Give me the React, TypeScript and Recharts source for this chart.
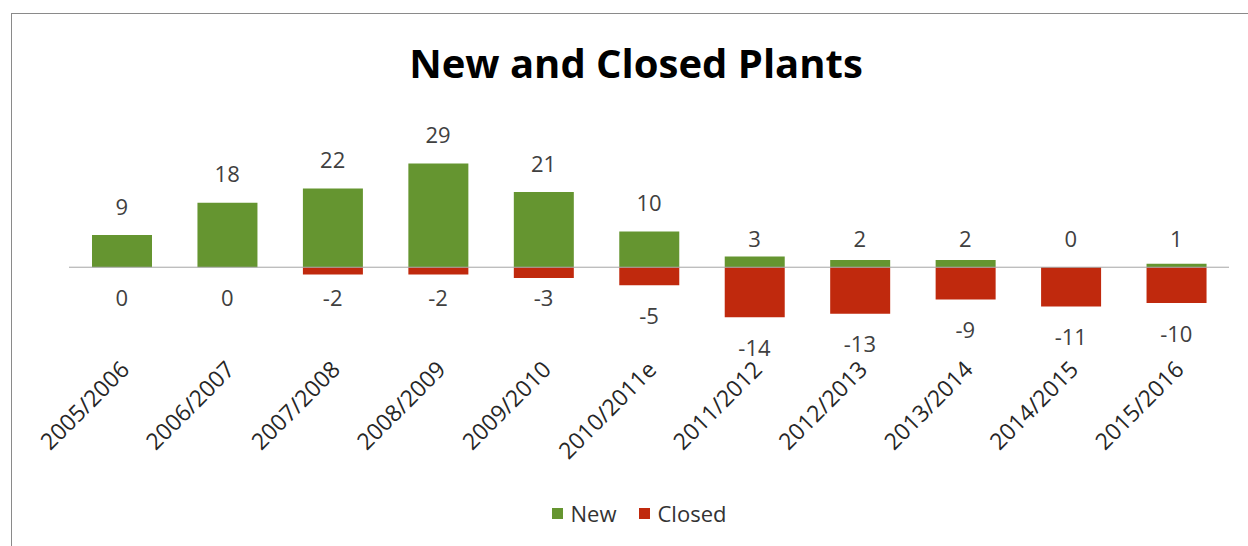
import { ComposedChart, Bar, Line, XAxis, YAxis, ReferenceLine, Legend, LabelList } from 'recharts';

const periods = [
  '2005/2006', '2006/2007', '2007/2008', '2008/2009', '2009/2010', '2010/2011e',
  '2011/2012', '2012/2013', '2013/2014', '2014/2015', '2015/2016',
];
const newPlants = [9, 18, 22, 29, 21, 10, 3, 2, 2, 0, 1];
const closedPlants = [0, 0, -2, -2, -3, -5, -14, -13, -9, -11, -10];

const GREEN = '#659530';
const RED = '#c0290d';
const FONT = '"Open Sans", sans-serif';

const data = periods.map((period, i) => ({
  period,
  New: newPlants[i],
  Closed: closedPlants[i],
}));

// small values get their label parked next to the zero line, like Excel does
const newLabelPos = (d: any) => (d.New >= 5 ? d.New : 0);
const closedLabelPos = (d: any) => (d.Closed <= -4 ? d.Closed : 0);

const ValueLabel = (props: any) => {
  const { x, y, value, shift } = props;
  return (
    <text x={x} y={y + shift} dy="0.35em" textAnchor="middle" fontSize={22} fill="#404040" fontFamily={FONT}>
      {value}
    </text>
  );
};

const PeriodTick = (props: any) => {
  const { x, y, payload } = props;
  return (
    <g transform={`translate(${x + 9},${y + 17})`}>
      <text x={0} y={0} textAnchor="end" transform="rotate(-45)" fontSize={23} fill="#262626" fontFamily={FONT}>
        {payload.value}
      </text>
    </g>
  );
};

const LegendContent = () => (
  <div style={{ display: 'flex', justifyContent: 'center', gap: 22, fontFamily: FONT, fontSize: 22, color: '#333', marginLeft: -20 }}>
    {[
      { name: 'New', color: GREEN },
      { name: 'Closed', color: RED },
    ].map((item) => (
      <span key={item.name} style={{ display: 'flex', alignItems: 'center' }}>
        <span style={{ width: 11, height: 11, background: item.color, marginRight: 8, display: 'inline-block' }} />
        {item.name}
      </span>
    ))}
  </div>
);

export default function App() {
  return (
    <div style={{ position: 'absolute', left: 0, top: 0, width: 1248, height: 546, background: '#fff', overflow: 'hidden' }}>
      <div style={{ position: 'absolute', left: 11, top: 13, width: 1300, height: 600, border: '1px solid #8a8a8a' }} />
      <div
        style={{
          position: 'absolute', left: 12, top: 35, width: 1248, textAlign: 'center',
          fontFamily: FONT, fontWeight: 700, fontSize: 40, color: '#000',
        }}
      >
        New and Closed Plants
      </div>
      <div style={{ position: 'absolute', left: 0, top: 0 }}>
        <ComposedChart
          width={1248}
          height={546}
          data={data}
          stackOffset="sign"
          barSize={60}
          margin={{ top: 124, right: 19, left: 69, bottom: 18 }}
        >
          <XAxis
            dataKey="period"
            axisLine={false}
            tickLine={false}
            interval={0}
            height={152}
            tick={<PeriodTick />}
          />
          <YAxis hide domain={[-22, 40]} />
          <ReferenceLine y={0} stroke="#a6a6a6" />
          <Legend verticalAlign="bottom" height={30} content={<LegendContent />} />
          <Bar dataKey="New" stackId="a" fill={GREEN} isAnimationActive={false} />
          <Bar dataKey="Closed" stackId="a" fill={RED} isAnimationActive={false} />
          <Line dataKey={newLabelPos} stroke="none" dot={false} activeDot={false} legendType="none" isAnimationActive={false}>
            <LabelList dataKey="New" content={<ValueLabel shift={-28} />} />
          </Line>
          <Line dataKey={closedLabelPos} stroke="none" dot={false} activeDot={false} legendType="none" isAnimationActive={false}>
            <LabelList dataKey="Closed" content={<ValueLabel shift={31} />} />
          </Line>
        </ComposedChart>
      </div>
    </div>
  );
}
